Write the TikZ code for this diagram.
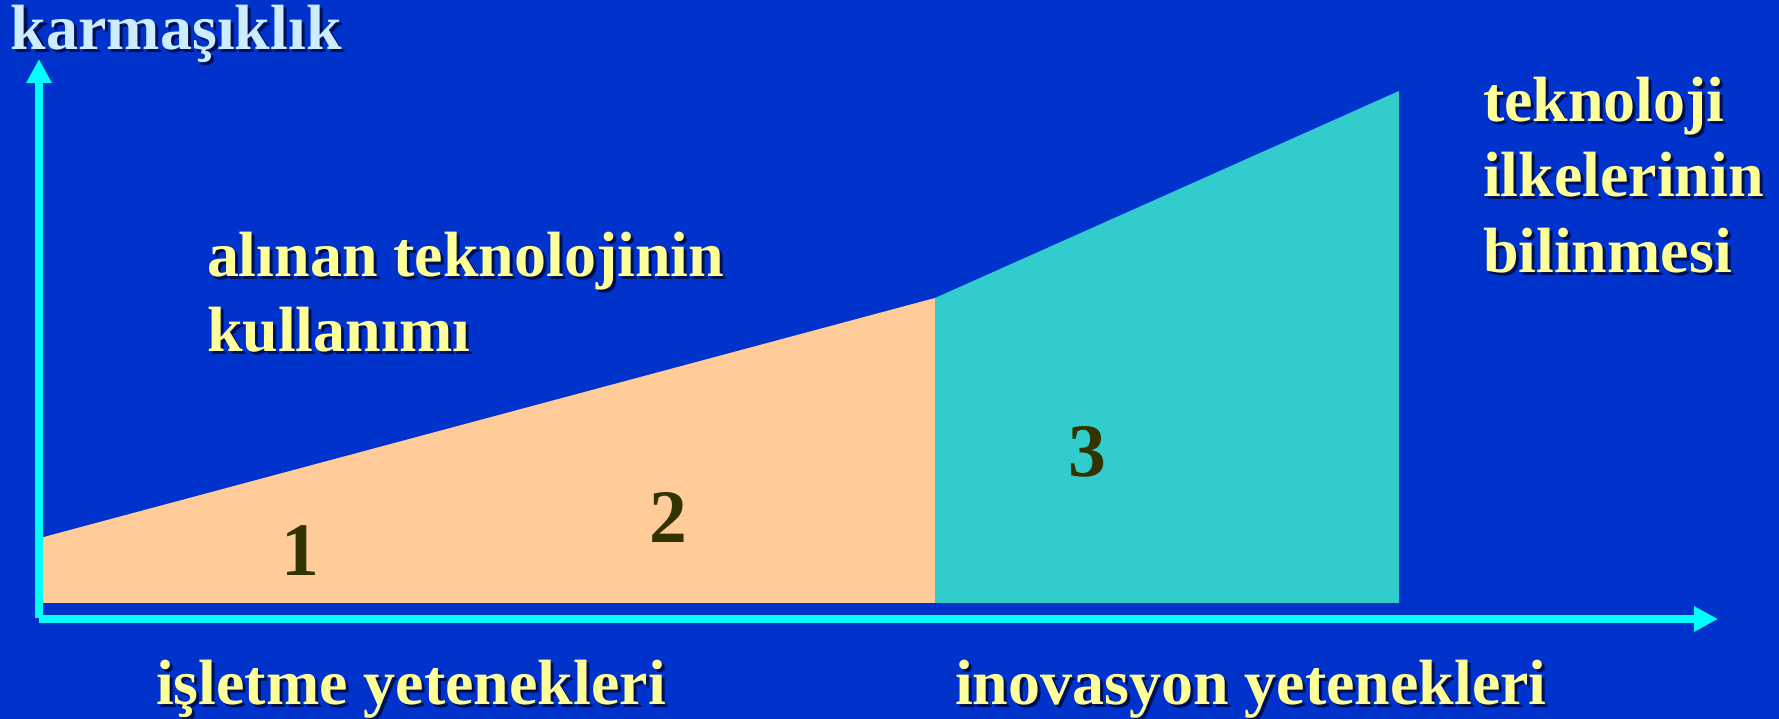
\documentclass[tikz,border=0pt]{standalone}
\usepackage{fontspec}
\setmainfont{Liberation Serif}
\usetikzlibrary{arrows.meta,calc}
\definecolor{bgblue}{RGB}{0,51,204}
\definecolor{peach}{RGB}{255,204,153}
\definecolor{tealc}{RGB}{51,204,204}
\definecolor{axiscyan}{RGB}{0,255,255}
\definecolor{ltyellow}{RGB}{255,255,153}
\definecolor{ltblue}{RGB}{204,236,255}
\definecolor{olive}{RGB}{51,51,0}
\definecolor{shadowc}{RGB}{0,0,30}
\tikzset{
  lbl/.style={anchor=base west, inner sep=0pt, outer sep=0pt, font=\bfseries\fontsize{18.2}{21}\selectfont},
  lblshadow/.style={lbl, text=shadowc, text opacity=0.7},
  numlbl/.style={anchor=base, inner sep=0pt, font=\bfseries\fontsize{21.5}{24}\selectfont, text=olive},
  axisline/.style={draw=axiscyan, line width=0.8mm, -{Triangle[length=2.4mm,width=2.4mm]}}
}
\newcommand{\shadowed}[4]{% name, position, color, text
  \node[lblshadow] (#1s) at ($(#2)+(3,3)$) {#4};
  \node[lbl, text=#3] (#1) at (#2) {#4};
}
\begin{document}
\begin{tikzpicture}[x=0.1mm, y=-0.1mm]
\fill[bgblue] (0,0) rectangle (1779,719);
\useasboundingbox (0,0) rectangle (1779,719);
% regions
\coordinate (p0) at (40,603);
\coordinate (p1) at (40,538);
\coordinate (p2) at (935,298);
\coordinate (p3) at (935,603);
\coordinate (p4) at (1399,91);
\coordinate (p5) at (1399,603);
\fill[peach] (p0) -- (p1) -- (p2) -- (p3) -- cycle;
\fill[tealc] (p3) -- (p2) -- (p4) -- (p5) -- cycle;
% axes
\coordinate (o1) at (39,618);
\coordinate (ytip) at (39,59);
\coordinate (o2) at (39,619);
\coordinate (xtip) at (1718,619);
\draw[axisline] (o1) -- (ytip);
\draw[axisline] (o2) -- (xtip);
% texts
\coordinate (c1) at (11,50);
\shadowed{karm}{c1}{ltblue}{karmaşıklık}
\coordinate (c2) at (207,277);
\shadowed{alinan}{c2}{ltyellow}{alınan teknolojinin}
\coordinate (c3) at (207,352);
\shadowed{kullanim}{c3}{ltyellow}{kullanımı}
\coordinate (c4) at (1483,122);
\shadowed{tekno}{c4}{ltyellow}{teknoloji}
\coordinate (c5) at (1483,197);
\shadowed{ilke}{c5}{ltyellow}{ilkelerinin}
\coordinate (c6) at (1483,273);
\shadowed{bilin}{c6}{ltyellow}{bilinmesi}
\coordinate (c7) at (156,705);
\shadowed{islet}{c7}{ltyellow}{işletme yetenekleri}
\coordinate (c8) at (955,705);
\shadowed{inov}{c8}{ltyellow}{inovasyon yetenekleri}
% numbers
\node[numlbl] (n1) at (300,576) {1};
\node[numlbl] (n2) at (668,543) {2};
\node[numlbl] (n3) at (1087,477) {3};
\end{tikzpicture}
\end{document}
